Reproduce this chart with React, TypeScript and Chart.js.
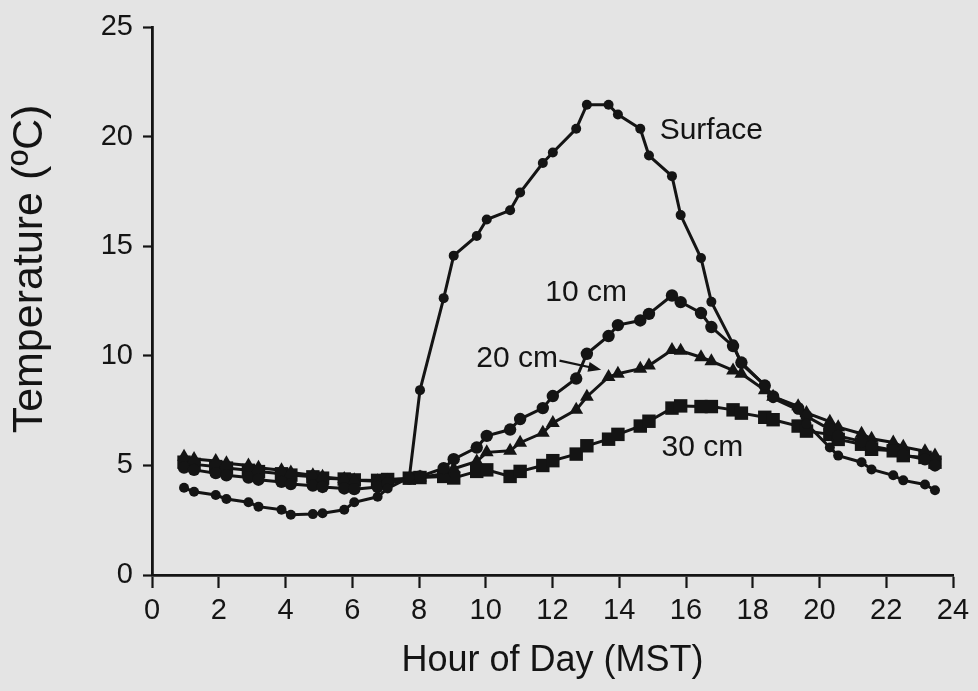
import React, { useEffect, useRef } from 'react';
import { Chart, registerables } from 'chart.js';

Chart.register(...registerables);

// ---- data ----
const hours = [
  0.96, 1.26, 1.91, 2.23, 2.89, 3.19, 3.88, 4.16, 4.82, 5.11, 5.76, 6.06,
  6.76, 7.06, 7.71, 8.03, 8.74, 9.04, 9.73, 10.03, 10.73, 11.03, 11.71, 12.01,
  12.71, 13.03, 13.68, 13.96, 14.63, 14.89, 15.58, 15.84, 16.45, 16.76, 17.41, 17.66,
  18.36, 18.61, 19.36, 19.61, 20.31, 20.56, 21.26, 21.56, 22.21, 22.51, 23.16, 23.46,
];

const surface = [
  3.98, 3.8, 3.65, 3.47, 3.32, 3.12, 2.98, 2.75, 2.78, 2.82, 2.98, 3.32,
  3.57, 3.95, 4.45, 8.44, 12.64, 14.58, 15.48, 16.23, 16.65, 17.46, 18.81, 19.29,
  20.37, 21.47, 21.47, 21.02, 20.37, 19.15, 18.21, 16.43, 14.47, 12.47, 10.54, 9.64,
  8.67, 8.07, 7.54, 6.9, 5.82, 5.45, 5.15, 4.82, 4.55, 4.32, 4.13, 3.87,
];

const cm10 = [
  4.9, 4.8, 4.65, 4.55, 4.45, 4.35, 4.25, 4.15, 4.08, 4.02, 3.95, 3.92,
  4.02, 4.18, 4.4, 4.5, 4.88, 5.29, 5.82, 6.35, 6.64, 7.12, 7.62, 8.17,
  8.97, 10.1, 10.91, 11.41, 11.62, 11.92, 12.76, 12.46, 11.96, 11.32, 10.45, 9.7,
  8.65, 8.15, 7.62, 7.25, 6.65, 6.35, 6.1, 5.88, 5.7, 5.48, 5.28, 5.0,
];

const cm20 = [
  5.4, 5.3, 5.2, 5.1, 5.0, 4.9, 4.78, 4.68, 4.55, 4.48, 4.38, 4.33,
  4.28, 4.3, 4.38, 4.45, 4.62, 4.85, 5.18, 5.6, 5.67, 6.04, 6.49, 6.94,
  7.54, 8.14, 9.04, 9.19, 9.42, 9.56, 10.27, 10.24, 9.94, 9.76, 9.34, 9.19,
  8.44, 8.14, 7.7, 7.4, 7.0, 6.75, 6.45, 6.22, 6.05, 5.85, 5.65, 5.45,
];

const cm30 = [
  5.15, 5.05, 4.95, 4.88, 4.78, 4.72, 4.62, 4.56, 4.48, 4.42, 4.38, 4.34,
  4.32, 4.36, 4.42, 4.45, 4.5, 4.43, 4.73, 4.8, 4.5, 4.73, 5.0, 5.22,
  5.52, 5.9, 6.2, 6.42, 6.8, 7.02, 7.62, 7.72, 7.69, 7.69, 7.54, 7.39,
  7.2, 7.09, 6.8, 6.57, 6.42, 6.19, 5.97, 5.74, 5.67, 5.45, 5.37, 5.15,
];

const seriesNames = ['Surface', '10 cm', '20 cm', '30 cm'];
const xTitle = 'Hour of Day (MST)';
const yTitle = 'Temperature (ºC)';

// ---- styling / layout ----
const INK = '#141414';
const PAPER = '#e4e4e4';
const FONT = "'Liberation Sans', Arial, Helvetica, sans-serif";

// text annotations anchored in data coordinates
const LABELS = [
  { text: 'Surface', x: 15.21, y: 20.29, align: 'left' as CanvasTextAlign },
  { text: '10 cm', x: 13.01, y: 12.9, align: 'center' as CanvasTextAlign },
  { text: '20 cm', x: 10.94, y: 9.87, align: 'center' as CanvasTextAlign },
  { text: '30 cm', x: 16.49, y: 5.82, align: 'center' as CanvasTextAlign },
];
const ARROW = { x1: 12.21, y1: 9.79, x2: 13.46, y2: 9.37 };
const Y_TITLE_POS = { cx: 30, cy: 269, size: 43 };

const pts = (ys: number[]) => hours.map((h, i) => ({ x: h, y: ys[i] }));

const paperPlugin = {
  id: 'paper',
  beforeDraw(chart: any) {
    const { ctx, width, height } = chart;
    ctx.save();
    ctx.fillStyle = PAPER;
    ctx.fillRect(0, 0, width, height);
    ctx.restore();
  },
};

const labelPlugin = {
  id: 'labels',
  afterDatasetsDraw(chart: any) {
    const { ctx, scales } = chart;
    const xs = scales.x;
    const ys = scales.y;
    ctx.save();
    ctx.fillStyle = INK;
    ctx.strokeStyle = INK;
    ctx.font = `30px ${FONT}`;
    ctx.textBaseline = 'middle';
    for (const l of LABELS) {
      ctx.textAlign = l.align;
      ctx.fillText(l.text, xs.getPixelForValue(l.x), ys.getPixelForValue(l.y));
    }
    const ax1 = xs.getPixelForValue(ARROW.x1);
    const ay1 = ys.getPixelForValue(ARROW.y1);
    const ax2 = xs.getPixelForValue(ARROW.x2);
    const ay2 = ys.getPixelForValue(ARROW.y2);
    const ang = Math.atan2(ay2 - ay1, ax2 - ax1);
    ctx.lineWidth = 2.2;
    ctx.beginPath();
    ctx.moveTo(ax1, ay1);
    ctx.lineTo(ax2 - 8 * Math.cos(ang), ay2 - 8 * Math.sin(ang));
    ctx.stroke();
    ctx.beginPath();
    ctx.moveTo(ax2, ay2);
    ctx.lineTo(ax2 - 13 * Math.cos(ang) + 5 * Math.sin(ang), ay2 - 13 * Math.sin(ang) - 5 * Math.cos(ang));
    ctx.lineTo(ax2 - 13 * Math.cos(ang) - 5 * Math.sin(ang), ay2 - 13 * Math.sin(ang) + 5 * Math.cos(ang));
    ctx.closePath();
    ctx.fill();

    // y-axis title (rotated)
    ctx.translate(Y_TITLE_POS.cx, Y_TITLE_POS.cy);
    ctx.rotate(-Math.PI / 2);
    ctx.textAlign = 'center';
    ctx.font = `${Y_TITLE_POS.size}px ${FONT}`;
    ctx.fillText(yTitle, 0, 0);
    ctx.restore();
  },
};

export default function App() {
  const ref = useRef<HTMLCanvasElement | null>(null);

  useEffect(() => {
    document.body.style.margin = '0';
    document.body.style.background = PAPER;
    const canvas = ref.current;
    if (!canvas) return;
    const ds = (label: string, data: number[], style: string, r: number) => ({
      label,
      data: pts(data),
      showLine: true,
      borderColor: INK,
      backgroundColor: INK,
      borderWidth: 3,
      pointStyle: style,
      pointRadius: r,
      pointBorderWidth: 0,
      pointBackgroundColor: INK,
      tension: 0,
      clip: false as any,
    });
    const chart = new Chart(canvas, {
      type: 'scatter',
      data: {
        datasets: [
          ds(seriesNames[0], surface, 'circle', 5),
          ds(seriesNames[1], cm10, 'circle', 6.2),
          ds(seriesNames[2], cm20, 'triangle', 8),
          ds(seriesNames[3], cm30, 'rect', 9.5),
        ],
      },
      options: {
        responsive: false,
        maintainAspectRatio: false,
        animation: false,
        layout: { padding: { top: 20, right: 25, bottom: 0, left: 0 } },
        plugins: { legend: { display: false }, tooltip: { enabled: false } },
        scales: {
          x: {
            type: 'linear',
            min: 0,
            max: 24,
            ticks: {
              stepSize: 2,
              color: INK,
              font: { family: FONT, size: 29 },
              padding: 6,
              maxRotation: 0,
              autoSkip: false,
            },
            grid: {
              display: true,
              drawOnChartArea: false,
              drawTicks: true,
              tickLength: 13,
              tickWidth: 2.2,
              tickColor: INK,
            },
            border: { display: true, color: INK, width: 2.8 },
            title: {
              display: true,
              text: xTitle,
              color: INK,
              font: { family: FONT, size: 36 },
              padding: { top: 0, bottom: 8 },
            },
            afterFit: (s: any) => {
              s.height = 116;
            },
          },
          y: {
            type: 'linear',
            min: 0,
            max: 25,
            ticks: {
              stepSize: 5,
              color: INK,
              font: { family: FONT, size: 29 },
              padding: 10,
            },
            grid: {
              display: true,
              drawOnChartArea: false,
              drawTicks: true,
              tickLength: 9,
              tickWidth: 2.2,
              tickColor: INK,
            },
            border: { display: true, color: INK, width: 2.8 },
            title: { display: false, text: yTitle },
            afterFit: (s: any) => {
              s.width = 152;
            },
          },
        },
      } as any,
      plugins: [paperPlugin, labelPlugin],
    });
    return () => chart.destroy();
  }, []);

  return (
    <div style={{ width: 978, height: 691, background: PAPER }}>
      <canvas ref={ref} width={978} height={691} style={{ display: 'block' }} />
    </div>
  );
}
